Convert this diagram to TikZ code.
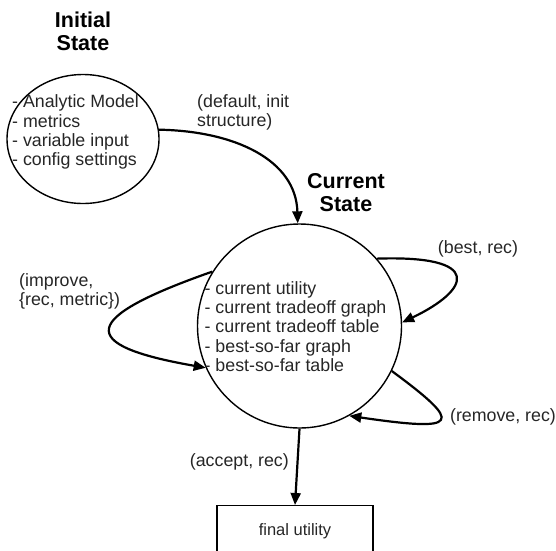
\documentclass[tikz,border=0pt]{standalone}
\usepackage{fontspec}
\setmainfont{Liberation Sans}
\usetikzlibrary{arrows.meta,shapes.geometric}
\tikzset{
  lbl/.style={inner sep=0pt, font=\fontsize{17.8}{19.2}\selectfont, text=black!85},
  ttl/.style={inner sep=0pt, align=center, font=\fontsize{21.5}{23}\selectfont\bfseries},
  statebox/.style={draw, line width=1.4pt},
  conn/.style={line width=2.2pt, -{Triangle[length=12pt,width=10pt]}}
}
\begin{document}
\begin{tikzpicture}[x=1pt,y=-1pt]
\useasboundingbox (0,0) rectangle (556,550);
% states
\node[statebox, ellipse, minimum width=152pt, minimum height=129pt, inner sep=0pt] (init) at (83,139) {};
\node[lbl, align=left] (inittext) at (75.5,132) {- Analytic Model\\- metrics\\- variable input\\- config settings};
\node[ttl] (inittitle) at (83,31) {Initial\\State};

\node[statebox, circle, minimum size=204pt, inner sep=0pt] (curr) at (299.5,326) {};
\node[lbl, align=left] (currtext) at (295.5,326.5) {- current utility\\- current tradeoff graph\\- current tradeoff table\\- best-so-far graph\\- best-so-far table};
\node[ttl] (currtitle) at (346,193) {Current\\State};

\node[draw, line width=1.4pt, anchor=north, minimum width=156pt, inner sep=0pt,
      text height=30pt, text depth=60pt, font=\fontsize{16.5}{19}\selectfont, text=black!85] (final) at (295,505) {final utility};

% connectors
\draw[conn] (init.7) .. controls (235,131) and (296,160) .. (curr.91);
\draw[conn] (curr.41) .. controls (485,255) and (470,290) .. (curr.2);
\draw[conn] (curr.334) .. controls (465,425) and (460,432) .. (curr.299);
\draw[conn] (curr.148) .. controls (80,318) and (75,345) .. (curr.204);
\draw[conn] (curr.south) -- (final.north);

% labels
\node[lbl, align=left, anchor=west] (ldefault) at (197,112.5) {(default, init\\structure)};
\node[lbl] (lbest) at (478,249) {(best, rec)};
\node[lbl] (lremove) at (503,417) {(remove, rec)};
\node[lbl, align=left, anchor=west] (limprove) at (19,291) {(improve,\\\{rec, metric\})};
\node[lbl, anchor=east] (laccept) at (289,462) {(accept, rec)};
\end{tikzpicture}
\end{document}
